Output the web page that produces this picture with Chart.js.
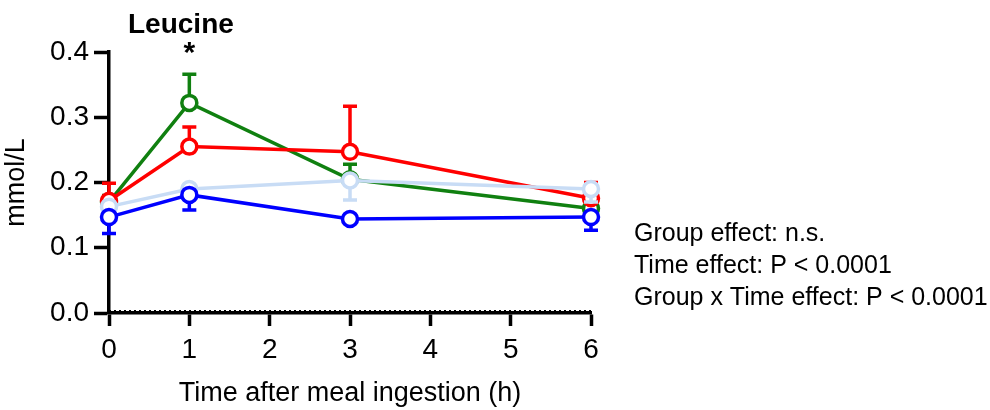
<!DOCTYPE html>
<html>
<head>
<meta charset="utf-8">
<script src="https://cdn.jsdelivr.net/npm/chart.js@4.4.1/dist/chart.umd.min.js"></script>
<style>
  html, body { margin: 0; padding: 0; background: #fff; }
  #wrap { width: 990px; height: 410px; }
</style>
</head>
<body>
<div id="wrap"><canvas id="leucineChart" width="990" height="410"></canvas></div>
<script>
// values (mmol/L), error = one-sided SEM
const times = [0, 1, 3, 6];
const yTicks = [0, 0.1, 0.2, 0.3, 0.4];
const xTicks = [0, 1, 2, 3, 4, 5, 6];

const greenMean = [0.170, 0.322, 0.205, 0.160];
const greenErr = [0.010, 0.044, 0.023, 0.006];
const redMean = [0.172, 0.255, 0.247, 0.176];
const redErr = [0.027, 0.030, 0.070, 0.024];
const lightMean = [0.163, 0.190, 0.203, 0.190];
const lightErr = [0.010, 0.008, 0.030, 0.020];
const blueMean = [0.147, 0.181, 0.144, 0.147];
const blueErr = [0.025, 0.023, 0.005, 0.020];

const statsText = [
  "Group effect: n.s.",
  "Time effect: P < 0.0001",
  "Group x Time effect: P < 0.0001"
];

const FONT = "'Liberation Sans', Arial, sans-serif";

function makeSet(label, color, means, errs, dir, order) {
  return {
    label: label,
    data: times.map((t, i) => ({ x: t, y: means[i] })),
    errors: errs,
    errDir: dir,
    borderColor: color,
    backgroundColor: '#fff',
    pointBackgroundColor: '#fff',
    pointBorderColor: color,
    pointBorderWidth: 3.5,
    pointRadius: 7.5,
    borderWidth: 3.5,
    tension: 0,
    clip: false,
    order: order
  };
}

// error bars are drawn before each dataset so the circles sit on top
const errorBars = {
  id: 'errorBars',
  beforeDatasetDraw(chart, args) {
    const ds = chart.data.datasets[args.index];
    const meta = args.meta;
    const ys = chart.scales.y;
    const ctx = chart.ctx;
    ctx.save();
    ctx.strokeStyle = ds.borderColor;
    ctx.lineWidth = 3.5;
    meta.data.forEach((pt, i) => {
      const v = ds.data[i].y + ds.errDir * ds.errors[i];
      const yEnd = ys.getPixelForValue(v);
      ctx.beginPath();
      ctx.moveTo(pt.x, pt.y);
      ctx.lineTo(pt.x, yEnd);
      ctx.moveTo(pt.x - 7, yEnd);
      ctx.lineTo(pt.x + 7, yEnd);
      ctx.stroke();
    });
    ctx.restore();
  }
};

const extras = {
  id: 'extras',
  afterDraw(chart) {
    const ctx = chart.ctx;
    const xs = chart.scales.x, ys = chart.scales.y;
    ctx.save();
    // dotted baseline at zero, sitting on the axis
    const y0 = ys.getPixelForValue(0) - 2.2;
    ctx.strokeStyle = '#000';
    ctx.lineWidth = 1.5;
    ctx.setLineDash([2, 3]);
    ctx.beginPath();
    ctx.moveTo(xs.left, y0);
    ctx.lineTo(xs.right, y0);
    ctx.stroke();
    ctx.setLineDash([]);

    ctx.fillStyle = '#000';
    ctx.textBaseline = 'alphabetic';
    ctx.textAlign = 'left';
    ctx.font = 'bold 28px ' + FONT;
    ctx.fillText('Leucine', 128, 33);

    // significance mark above the 1 h green point
    ctx.textAlign = 'center';
    ctx.font = 'bold 30px ' + FONT;
    ctx.fillText('*', xs.getPixelForValue(1), 62);

    ctx.textAlign = 'left';
    ctx.font = '25px ' + FONT;
    statsText.forEach((s, i) => ctx.fillText(s, 634, 241 + i * 32));
    ctx.restore();
  }
};

new Chart(document.getElementById('leucineChart').getContext('2d'), {
  type: 'line',
  data: {
    datasets: [
      makeSet('Green', '#108010', greenMean, greenErr, 1, 4),
      makeSet('Red', '#ff0000', redMean, redErr, 1, 3),
      makeSet('Light blue', '#c8dcf5', lightMean, lightErr, -1, 2),
      makeSet('Blue', '#0000ff', blueMean, blueErr, -1, 1)
    ]
  },
  options: {
    responsive: false,
    animation: false,
    layout: { padding: { left: 0, right: 399, top: 52, bottom: 0 } },
    plugins: {
      legend: { display: false },
      tooltip: { enabled: false }
    },
    scales: {
      x: {
        type: 'linear',
        min: 0,
        max: 6,
        afterBuildTicks(scale) { scale.ticks = xTicks.map(v => ({ value: v })); },
        afterFit(scale) { scale.height = 97; },
        grid: { drawOnChartArea: false, drawTicks: true, tickLength: 13, tickWidth: 3.5, tickColor: '#000' },
        border: { display: true, width: 3.5, color: '#000' },
        ticks: { color: '#000', font: { family: FONT, size: 28 }, padding: 7, maxRotation: 0 },
        title: { display: true, text: 'Time after meal ingestion (h)', color: '#000', font: { family: FONT, size: 27 }, padding: { top: 9, bottom: 0 } }
      },
      y: {
        min: 0,
        max: 0.4,
        afterBuildTicks(scale) { scale.ticks = yTicks.map(v => ({ value: v })); },
        afterFit(scale) { scale.width = 109; },
        grid: { drawOnChartArea: false, drawTicks: true, tickLength: 15, tickWidth: 3.5, tickColor: '#000' },
        border: { display: true, width: 3.5, color: '#000' },
        ticks: { color: '#000', font: { family: FONT, size: 28 }, padding: 5, callback: v => v.toFixed(1) },
        title: { display: true, text: 'mmol/L', color: '#000', font: { family: FONT, size: 27 }, padding: { top: 0, bottom: 4 } }
      }
    }
  },
  plugins: [errorBars, extras]
});
</script>
</body>
</html>
